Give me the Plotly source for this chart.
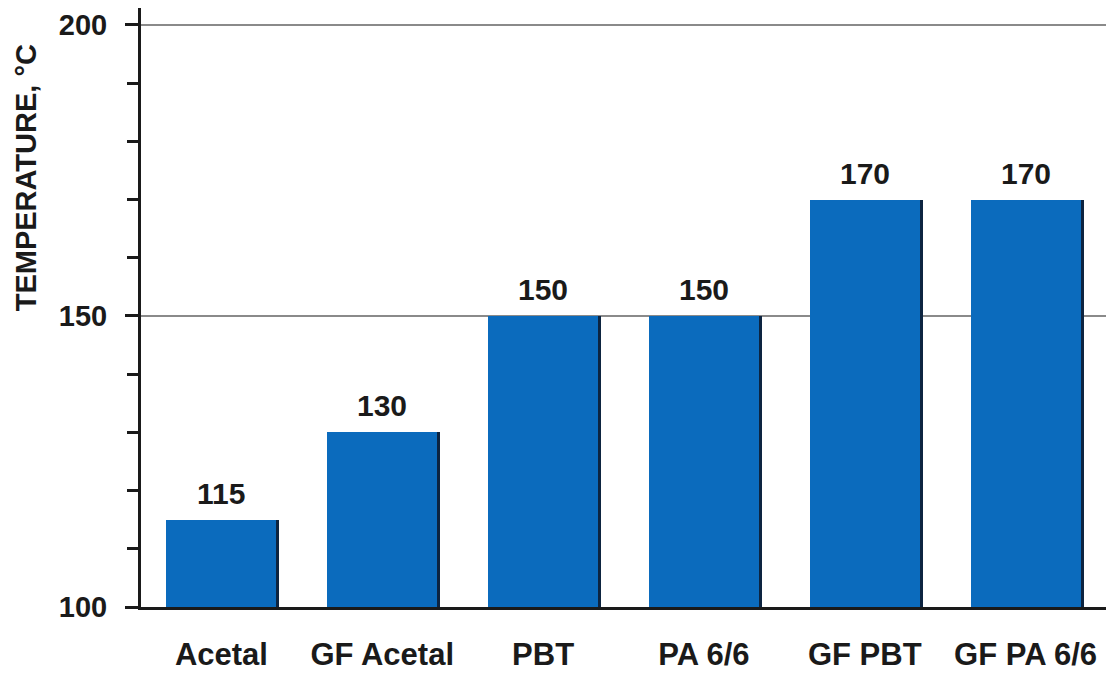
import plotly.graph_objects as go

categories = ["Acetal", "GF Acetal", "PBT", "PA 6/6", "GF PBT", "GF PA 6/6"]
temperatures = [115, 130, 150, 150, 170, 170]
y_tick_values = [100, 150, 200]
y_title = "TEMPERATURE, °C"

FONT = "Liberation Sans, Arial, sans-serif"
TXT = "#1a1a1a"
BAR = "#0b6bbd"
SHADOW = "#0d2440"

bar_w = 0.684
shift = 0.019
heights = [t - 100 for t in temperatures]

fig = go.Figure()
# dark right-edge shadow
fig.add_trace(go.Bar(
    x=categories, y=heights, base=100,
    width=bar_w, offset=-bar_w / 2 + shift,
    marker=dict(color=SHADOW, line=dict(width=0)),
    hoverinfo="skip", showlegend=False,
))
fig.add_trace(go.Bar(
    x=categories, y=heights, base=100,
    width=bar_w, offset=-bar_w / 2,
    marker=dict(color=BAR, line=dict(width=0)),
    showlegend=False,
))

for c, t in zip(categories, temperatures):
    fig.add_annotation(
        x=c, y=t, text=f"<b>{t}</b>", showarrow=False,
        yanchor="bottom", yshift=8,
        font=dict(family=FONT, size=30, color=TXT),
    )

fig.add_annotation(
    xref="paper", yref="paper", x=-0.119, y=0.716,
    text=f"<b>{y_title}</b>", textangle=-90, showarrow=False,
    xanchor="center", yanchor="middle",
    font=dict(family=FONT, size=29, color=TXT),
)

fig.update_layout(
    width=1106, height=673,
    margin=dict(l=141, r=0, t=8, b=66),
    paper_bgcolor="white", plot_bgcolor="white",
    barmode="overlay",
    bargap=0,
    font=dict(family=FONT, color=TXT),
)
fig.update_xaxes(
    range=[-0.5, 5.5],
    showline=True, linecolor=TXT, linewidth=3,
    ticks="", showgrid=False,
    tickfont=dict(family=FONT, size=31, color=TXT),
    tickprefix="<b>", ticksuffix="</b>",
    ticklabelstandoff=18,
    automargin=False,
)
fig.update_yaxes(
    range=[100, 202.9],
    tickvals=y_tick_values,
    ticktext=[f"<b>{v}</b>" for v in y_tick_values],
    showline=True, linecolor=TXT, linewidth=3,
    ticks="outside", ticklen=13, tickwidth=2.5, tickcolor=TXT,
    minor=dict(dtick=10, ticks="outside", ticklen=11, tickwidth=2.5, tickcolor=TXT, showgrid=False),
    showgrid=True, gridcolor="#8a8a8a", gridwidth=1.5,
    zeroline=False,
    tickfont=dict(family=FONT, size=29, color=TXT),
    ticklabelstandoff=12,
    automargin=False,
)

fig.write_html("out.html")
